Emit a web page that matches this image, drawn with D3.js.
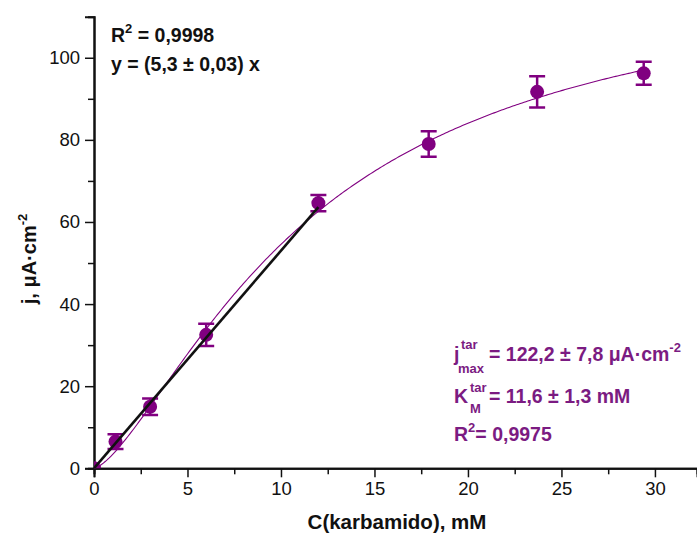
<!DOCTYPE html>
<html>
<head>
<meta charset="utf-8">
<script src="https://cdn.jsdelivr.net/npm/d3@7"></script>
<style>
  html, body { margin: 0; padding: 0; background: #fff; }
  svg { display: block; font-family: Arial, "Liberation Sans", sans-serif; }
</style>
</head>
<body>
<svg id="chart" width="697" height="537"></svg>
<script>
// Measured current density vs. urea concentration
const concentration = [0, 1.15, 3, 6, 12, 17.9, 23.7, 29.4];
const currentDensity = [0, 6.5, 15.0, 32.5, 64.6, 79.0, 91.7, 96.2];
const errorBars = [0, 1.8, 2.0, 2.7, 2.0, 3.1, 3.8, 2.8];

// Tick labels
const xTicks = [0, 5, 10, 15, 20, 25, 30];
const yTicks = [0, 20, 40, 60, 80, 100];

// Fit parameters
const jMax = 122.2;        // µA·cm⁻²
const kM = 11.6;           // mM
const hillN = 1.45;        // cooperativity of the saturation fit
const slope = 5.3;         // linear region slope
const linearEnd = 12;      // linear fit spans 0..12 mM

const purple = "#800080";
const textPurple = "#7b1b82";

const svg = d3.select("#chart");
const plotLeft = 94, plotRight = 697, plotTop = 16.7, plotBottom = 468.3;

const x = d3.scaleLinear().domain([0, 32.25]).range([plotLeft, plotRight]);
const y = d3.scaleLinear().domain([0, 110]).range([plotBottom, plotTop]);

svg.append("defs").append("clipPath").attr("id", "plotClip")
  .append("rect").attr("x", plotLeft).attr("y", plotTop)
  .attr("width", plotRight - plotLeft).attr("height", plotBottom - plotTop);

// Axes
const xAxis = d3.axisBottom(x).tickValues(xTicks).tickSize(9).tickPadding(5);
const xMinor = d3.axisBottom(x).tickValues(d3.range(2.5, 32, 5)).tickSize(6).tickFormat("");
const yAxis = d3.axisLeft(y).tickValues(yTicks).tickSize(9).tickPadding(5);
const yMinor = d3.axisLeft(y).tickValues(d3.range(10, 110, 20)).tickSize(6).tickFormat("");

function styleAxis(g) {
  g.select(".domain").attr("stroke", "#111").attr("stroke-width", 2);
  g.selectAll(".tick line").attr("stroke", "#111").attr("stroke-width", 1.5);
  g.selectAll(".tick text").attr("fill", "#111")
    .style("font-family", "Arial, 'Liberation Sans', sans-serif")
    .style("font-size", "18.5px");
}

svg.append("g").attr("transform", `translate(0,${plotBottom})`).call(xMinor).call(styleAxis);
svg.append("g").attr("transform", `translate(0,${plotBottom})`).call(xAxis).call(styleAxis);
svg.append("g").attr("transform", `translate(${plotLeft},0)`).call(yMinor).call(styleAxis);
svg.append("g").attr("transform", `translate(${plotLeft},0)`).call(yAxis).call(styleAxis);

// Axis titles
svg.append("text")
  .attr("x", 397).attr("y", 529)
  .attr("text-anchor", "middle")
  .style("font-weight", "bold").style("font-size", "20.5px").attr("fill", "#111")
  .text("C(karbamido), mM");

const yTitle = svg.append("text")
  .attr("transform", `translate(36,259) rotate(-90)`)
  .attr("text-anchor", "middle")
  .style("font-weight", "bold").style("font-size", "20px").attr("fill", "#111");
yTitle.append("tspan").text("j, μA·cm");
yTitle.append("tspan").attr("dy", -9).style("font-size", "13px").text("-2");

const plot = svg.append("g").attr("clip-path", "url(#plotClip)");

// Saturation fit curve
const curveX = d3.range(0, 29.4001, 0.1);
const hill = c => jMax * Math.pow(c, hillN) / (Math.pow(kM, hillN) + Math.pow(c, hillN));
plot.append("path")
  .datum(curveX)
  .attr("fill", "none").attr("stroke", purple).attr("stroke-width", 1.1)
  .attr("d", d3.line().x(d => x(d)).y(d => y(hill(d))));

// Error bars
const capW = 8;
const eb = plot.append("g").attr("stroke", purple).attr("stroke-width", 2.5);
concentration.forEach((c, i) => {
  if (errorBars[i] <= 0) return;
  const cx = x(c), y1 = y(currentDensity[i] - errorBars[i]), y2 = y(currentDensity[i] + errorBars[i]);
  eb.append("line").attr("x1", cx).attr("x2", cx).attr("y1", y1).attr("y2", y2);
  eb.append("line").attr("x1", cx - capW).attr("x2", cx + capW).attr("y1", y1).attr("y2", y1);
  eb.append("line").attr("x1", cx - capW).attr("x2", cx + capW).attr("y1", y2).attr("y2", y2);
});

// Data markers
plot.selectAll("circle.pt")
  .data(concentration.map((c, i) => [c, currentDensity[i]]))
  .join("circle").attr("class", "pt")
  .attr("cx", d => x(d[0])).attr("cy", d => y(d[1]))
  .attr("r", 7).attr("fill", purple);

// Linear fit in the low-concentration region
plot.append("line")
  .attr("x1", x(0)).attr("y1", y(0))
  .attr("x2", x(linearEnd)).attr("y2", y(slope * linearEnd))
  .attr("stroke", "#111").attr("stroke-width", 2.6);

// Linear fit annotation
const big = "19.5px", small = "13px";
const lin1 = svg.append("text").attr("x", 111).attr("y", 42)
  .style("font-weight", "bold").style("font-size", big).attr("fill", "#111");
lin1.append("tspan").text("R");
lin1.append("tspan").attr("dy", -9).style("font-size", small).text("2");
lin1.append("tspan").attr("dy", 9).text(" = 0,9998");
svg.append("text").attr("x", 111).attr("y", 71)
  .style("font-weight", "bold").style("font-size", big).attr("fill", "#111")
  .text("y = (5,3 ± 0,03) x");

// Saturation fit annotation
const ann = svg.append("g").attr("fill", textPurple).style("font-weight", "bold");
function annText(xp, yp, size, str) {
  return ann.append("text").attr("x", xp).attr("y", yp).style("font-size", size).text(str);
}
// j_max^tar line
annText(454, 361, big, "j");
annText(461, 349, small, "tar");
annText(458, 373, small, "max");
const l1 = annText(489, 361, big, "= 122,2 ± 7,8 μA·cm");
l1.append("tspan").attr("dy", -9).style("font-size", small).text("-2");
// K_M^tar line
annText(454, 403, big, "K");
annText(470, 392, small, "tar");
annText(470, 413, small, "M");
annText(489, 403, big, "= " + kM.toString().replace(".", ",") + " ± 1,3 mM");
// R² line
const l3 = annText(454, 441, big, "R");
l3.append("tspan").attr("dy", -9).style("font-size", small).text("2");
l3.append("tspan").attr("dy", 9).text("= 0,9975");
</script>
</body>
</html>
